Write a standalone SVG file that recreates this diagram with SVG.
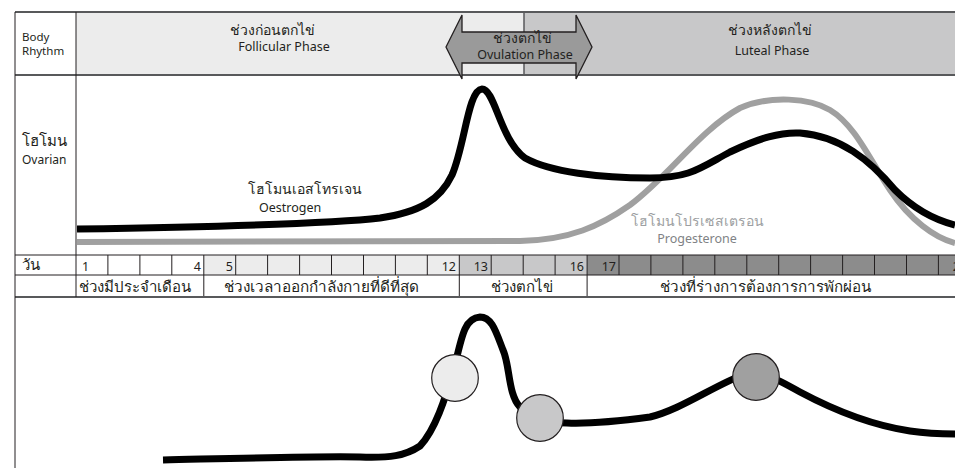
<svg xmlns="http://www.w3.org/2000/svg" width="955" height="468" viewBox="0 0 955 468">
<style>
.t{font-family:'Noto Sans','DejaVu Sans',sans-serif;fill:#231f20}
.th{font-size:14px}
.en{font-size:12.5px}
.lbl{font-size:11.5px}
.num{font-size:12.5px}
.grid{stroke:#231f20;stroke-width:1;fill:none}
.thick{stroke:#58595b;stroke-width:2;fill:none}
.c1{fill:#ececec}.c2{fill:#c8c8c9}.c3{fill:#8c8c8c}
.node{stroke:#231f20;stroke-width:1.2}
</style>
<rect width="955" height="468" fill="#fff"/>

<g id="header">
  <rect x="76" y="12" width="448" height="63" class="c1"/>
  <rect x="524" y="12" width="431" height="63" class="c2"/>
  <line x1="524" y1="12" x2="524" y2="75" stroke="#58595b" stroke-width="1.5"/>
  <line x1="15" y1="12" x2="955" y2="12" class="thick"/>
  <line x1="15" y1="75" x2="955" y2="75" class="thick"/>
  <text class="t lbl" x="22" y="41">Body</text>
  <text class="t lbl" x="22" y="55">Rhythm</text>
  <g id="follicular">
    <text class="t th" x="272" y="35" text-anchor="middle">ช่วงก่อนตกไข่</text>
    <text class="t en" x="284" y="51" text-anchor="middle">Follicular Phase</text>
  </g>
  <g id="luteal">
    <text class="t th" x="770" y="35" text-anchor="middle">ช่วงหลังตกไข่</text>
    <text class="t en" x="772" y="55" text-anchor="middle">Luteal Phase</text>
  </g>
  <g id="ovulation">
    <polygon points="446,47 462,15 462,32 576,32 576,15 592,47 576,79 576,63 462,63 462,79" fill="#9a9a9a" stroke="#231f20" stroke-width="1.3"/>
    <text class="t th" x="522" y="43" text-anchor="middle">ช่วงตกไข่</text>
    <text class="t en" x="525" y="59" text-anchor="middle">Ovulation Phase</text>
  </g>
</g>

<g id="hormone">
  <text class="t th" x="22" y="146" style="font-size:15px">โฮโมน</text>
  <text class="t lbl" x="22" y="164" style="font-size:12px">Ovarian</text>
  <path d="M77,242 L520,241 C570,240 600,226 630,205 C670,175 700,130 740,108 C770,95 810,98 830,110 C855,125 870,160 890,190 C910,220 935,238 955,243" fill="none" stroke="#a0a0a0" stroke-width="6"/>
  <path d="M77,229 C200,227 330,224 380,218 C420,212 440,200 452,175 C465,145 468,90 482,89 C495,89 500,140 525,158 C550,172 600,178 650,178 C690,178 700,168 730,152 C760,138 780,132 800,133 C840,136 870,160 895,190 C915,210 935,220 955,225" fill="none" stroke="#000" stroke-width="7"/>
  <text class="t th" x="248" y="194">โฮโมนเอสโทรเจน</text>
  <text class="t en" x="259" y="212">Oestrogen</text>
  <text class="t th" x="697" y="226" text-anchor="middle" style="fill:#9d9fa2">โฮโมนโปรเซสเตรอน</text>
  <text class="t en" x="697" y="243" text-anchor="middle" style="fill:#808285">Progesterone</text>
</g>

<g id="days">
  <rect x="203.8" y="255" width="255.5" height="20" class="c1"/>
  <rect x="459.3" y="255" width="127.8" height="20" class="c2"/>
  <rect x="587.1" y="255" width="368" height="20" class="c3"/>
  <g class="grid">
    <path d="M15,255H955M15,275H955"/>
    <path d="M107.9,255V275M139.9,255V275M171.8,255V275M203.8,255V275M235.7,255V275M267.6,255V275M299.6,255V275M331.5,255V275M363.5,255V275M395.4,255V275M427.3,255V275M459.3,255V275M491.2,255V275M523.2,255V275M555.1,255V275M587.1,255V275M619,255V275M650.9,255V275M682.9,255V275M714.8,255V275M746.8,255V275M778.7,255V275M810.6,255V275M842.6,255V275M874.5,255V275M906.5,255V275M938.4,255V275"/>
    <path d="M203.8,275V297M459.3,275V297M587.1,275V297"/>
  </g>
  <text class="t th" x="22" y="270" style="font-size:15px">วัน</text>
  <text class="t num" x="82" y="271">1</text>
  <text class="t num" x="201" y="271" text-anchor="end">4</text>
  <text class="t num" x="233" y="271" text-anchor="end">5</text>
  <text class="t num" x="456" y="271" text-anchor="end">12</text>
  <text class="t num" x="488" y="271" text-anchor="end">13</text>
  <text class="t num" x="584" y="271" text-anchor="end">16</text>
  <text class="t num" x="616" y="271" text-anchor="end">17</text>
  <text class="t num" x="967" y="271" text-anchor="end">28</text>
  <text class="t th" x="79" y="292" style="font-size:15px">ช่วงมีประจำเดือน</text>
  <text class="t th" x="224" y="292" style="font-size:15.3px">ช่วงเวลาออกกำลังกายที่ดีที่สุด</text>
  <text class="t th" x="522" y="292" text-anchor="middle" style="font-size:15px">ช่วงตกไข่</text>
  <text class="t th" x="765" y="292" text-anchor="middle" style="font-size:15.2px">ช่วงที่ร่างการต้องการการพักผ่อน</text>
  <line x1="15" y1="297" x2="955" y2="297" class="thick"/>
</g>

<g id="frame" class="grid">
  <path d="M15,12V468M76,12V297"/>
</g>

<g id="connectors">
  <path d="M163,460 C250,458 320,456 360,457 C390,458 405,456 420,446 C435,430 445,400 455,365 C462,335 465,318 480,317 C492,317 496,332 503,350 C510,365 508,395 520,407 C530,418 545,423 567,423 C590,424 620,421 650,417 C680,410 715,385 745,374 C760,370 775,378 800,392 C830,408 870,425 910,431 C930,434 945,434 955,434" fill="none" stroke="#000" stroke-width="7"/>
</g>
<g id="node-follicular"><circle cx="455" cy="378" r="23.3" class="node c1"/></g>
<g id="node-ovulation"><circle cx="540" cy="418" r="23.3" class="node c2"/></g>
<g id="node-luteal"><circle cx="756" cy="377" r="23.3" class="node" fill="#a0a0a0"/></g>
</svg>
